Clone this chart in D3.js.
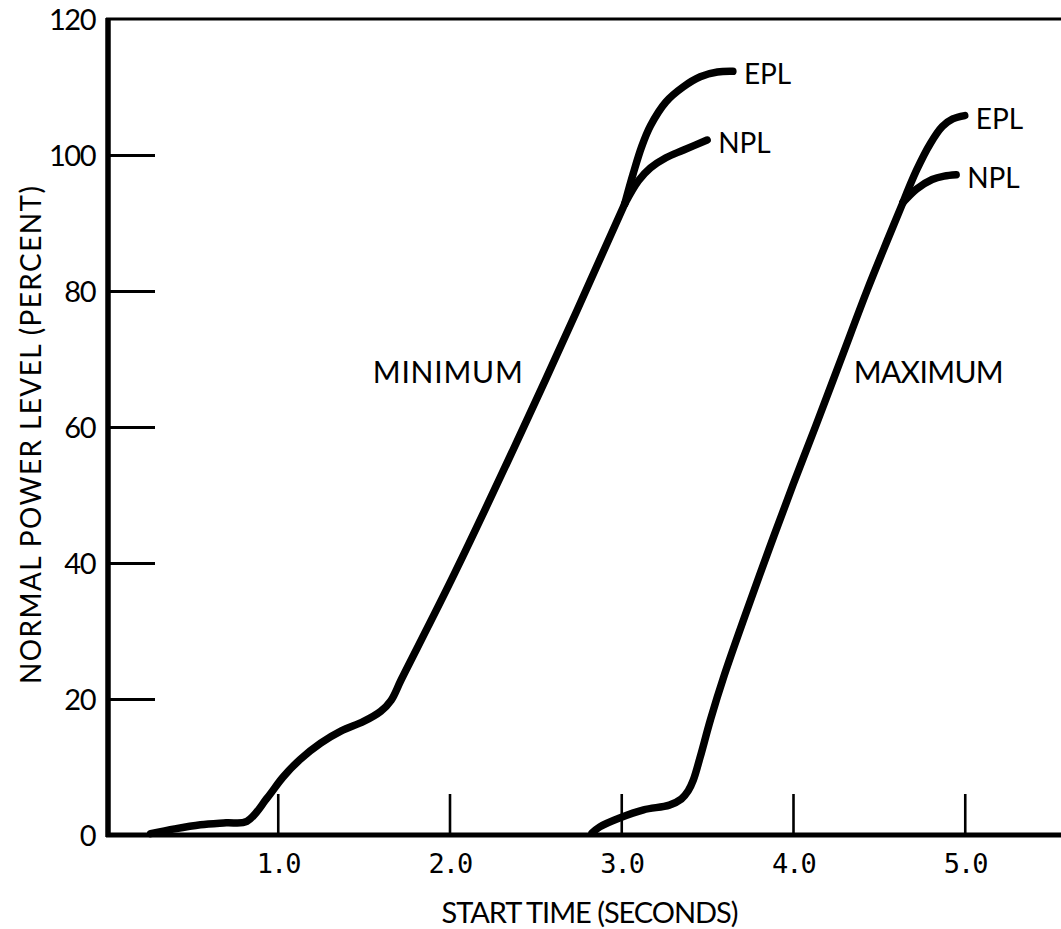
<!DOCTYPE html>
<html>
<head>
<meta charset="utf-8">
<script src="https://cdn.jsdelivr.net/npm/d3@7"></script>
<style>
body{margin:0;background:#fff;}
svg text{fill:#000;}
</style>
</head>
<body>
<script>
//Tick values
var xTicks = [1, 2, 3, 4, 5];
var yTicks = [0, 20, 40, 60, 80, 100, 120];
var yInnerTicks = [20, 40, 60, 80, 100];

//Minimum start curve [seconds, percent], trunk then the two branches
var minTrunk = [[0.26,0.2],[0.4,0.9],[0.55,1.5],[0.7,1.8],[0.82,2.0],[0.94,5.5],[1.03,8.5],[1.13,11.1],
    [1.25,13.5],[1.37,15.3],[1.5,16.7],[1.6,18.2],[1.66,19.8],[1.72,22.9],[2.03,38.5],[2.56,67],[3.02,92.8]];
var minEPL = [[3.02,92.8],[3.07,97.3],[3.12,101.3],[3.17,104.3],[3.26,107.8],[3.36,110],[3.46,111.5],[3.56,112.2],[3.65,112.3]];
var minNPL = [[3.02,92.8],[3.1,96.2],[3.17,98.1],[3.26,99.6],[3.36,100.7],[3.5,102.2]];

//Maximum start curve
var maxTrunk = [[2.83,0.3],[2.875,1.2],[2.99,2.5],[3.13,3.7],[3.28,4.4],[3.35,5.3],[3.39,6.5],[3.42,8.1],[3.46,11.5],
    [3.52,17],[3.6,23.5],[3.72,32.2],[3.86,42],[4.0,51.5],[4.13,60],[4.28,70],[4.43,80],[4.55,87.5],[4.64,93]];
var maxEPL = [[4.64,93],[4.72,97.8],[4.8,101.7],[4.87,104.2],[4.93,105.3],[5.0,105.8]];
var maxNPL = [[4.64,93],[4.72,95],[4.81,96.4],[4.88,96.9],[4.95,97.1]];

var curveNames = ["MINIMUM", "MAXIMUM"];
var branchNames = ["EPL", "NPL"];

var width = 1061, height = 929;
var sans = "Lato, 'Noto Sans', sans-serif";

var svg = d3.select("body").append("svg")
    .attr("width", width)
    .attr("height", height);

var x = d3.scaleLinear().domain([0, 5]).range([106, 964.75]);
var y = d3.scaleLinear().domain([0, 120]).range([835, 19]);

//Frame: left axis, top line, bottom axis
svg.append("line").attr("x1", 108).attr("x2", 108).attr("y1", 18).attr("y2", 837)
    .attr("stroke", "black").attr("stroke-width", 5.5);
svg.append("line").attr("x1", 106).attr("x2", width).attr("y1", y(120)).attr("y2", y(120))
    .attr("stroke", "black").attr("stroke-width", 3.2);
svg.append("line").attr("x1", 106).attr("x2", width).attr("y1", y(0)).attr("y2", y(0))
    .attr("stroke", "black").attr("stroke-width", 5);

//Inner ticks
svg.append("g")
    .attr("transform", "translate(108,0)")
    .call(d3.axisRight(y).tickValues(yInnerTicks).tickSize(47).tickFormat(""))
    .call(function(g){ g.select(".domain").remove(); })
    .selectAll("line").attr("stroke", "black").attr("stroke-width", 3);

svg.append("g")
    .attr("transform", "translate(0," + y(0) + ")")
    .call(d3.axisTop(x).tickValues(xTicks).tickSize(41).tickFormat(""))
    .call(function(g){ g.select(".domain").remove(); })
    .selectAll("line").attr("stroke", "black").attr("stroke-width", 2.6);

//Tick labels
var yLab = svg.append("g")
    .attr("transform", "translate(108,0)")
    .call(d3.axisLeft(y).tickValues(yTicks).tickSize(0).tickPadding(13))
    .call(function(g){ g.select(".domain").remove(); });
yLab.selectAll("text")
    .style("font-family", sans)
    .style("font-size", "29px")
    .style("letter-spacing", "-1.5px")
    .attr("dy", "0.36em")
    .attr("fill", "black");

var xLab = svg.append("g")
    .attr("transform", "translate(0," + y(0) + ")")
    .call(d3.axisBottom(x).tickValues(xTicks).tickSize(0).tickFormat(d3.format(".1f")))
    .call(function(g){ g.select(".domain").remove(); });
xLab.selectAll("text")
    .attr("y", 28)
    .attr("dy", "0.36em")
    .style("font-family", "'DejaVu Sans Mono', monospace")
    .style("font-size", "27px")
    .style("letter-spacing", "-2px")
    .attr("fill", "black");

//Axis titles
svg.append("text")
    .attr("x", 590).attr("y", 923)
    .attr("text-anchor", "middle")
    .style("font-family", sans)
    .style("font-size", "29px")
    .attr("textLength", 297).attr("lengthAdjust", "spacing")
    .text("START TIME (SECONDS)");

svg.append("text")
    .attr("transform", "translate(41,435) rotate(-90)")
    .attr("text-anchor", "middle")
    .style("font-family", sans)
    .style("font-size", "28px")
    .attr("textLength", 498).attr("lengthAdjust", "spacing")
    .text("NORMAL POWER LEVEL (PERCENT)");

//Curves
var line = d3.line()
    .x(function(d){ return x(d[0]); })
    .y(function(d){ return y(d[1]); })
    .curve(d3.curveCatmullRom.alpha(0.5));

var curves = [minTrunk, minEPL, minNPL, maxTrunk, maxEPL, maxNPL];
svg.append("g").selectAll("path")
    .data(curves)
    .enter().append("path")
    .attr("d", line)
    .attr("fill", "none")
    .attr("stroke", "black")
    .attr("stroke-width", 7.5)
    .attr("stroke-linecap", "round")
    .attr("stroke-linejoin", "round");

//Branch labels at the end of each branch
var branches = [minEPL, minNPL, maxEPL, maxNPL];
svg.append("g").selectAll("text")
    .data(branches)
    .enter().append("text")
    .attr("x", function(d){ return x(d[d.length-1][0]) + 11; })
    .attr("y", function(d){ return y(d[d.length-1][1]) + 3; })
    .attr("dy", "0.36em")
    .style("font-family", sans)
    .style("font-size", "28px")
    .text(function(d, i){ return branchNames[i % 2]; });

//Curve names
var namePos = [[1.99, 68], [4.79, 68]];
svg.append("g").selectAll("text")
    .data(curveNames)
    .enter().append("text")
    .attr("x", function(d, i){ return x(namePos[i][0]); })
    .attr("y", function(d, i){ return y(namePos[i][1]); })
    .attr("dy", "0.36em")
    .attr("text-anchor", "middle")
    .style("font-family", sans)
    .style("font-size", "30px")
    .attr("textLength", 150).attr("lengthAdjust", "spacing")
    .text(function(d){ return d; });
</script>
</body>
</html>
